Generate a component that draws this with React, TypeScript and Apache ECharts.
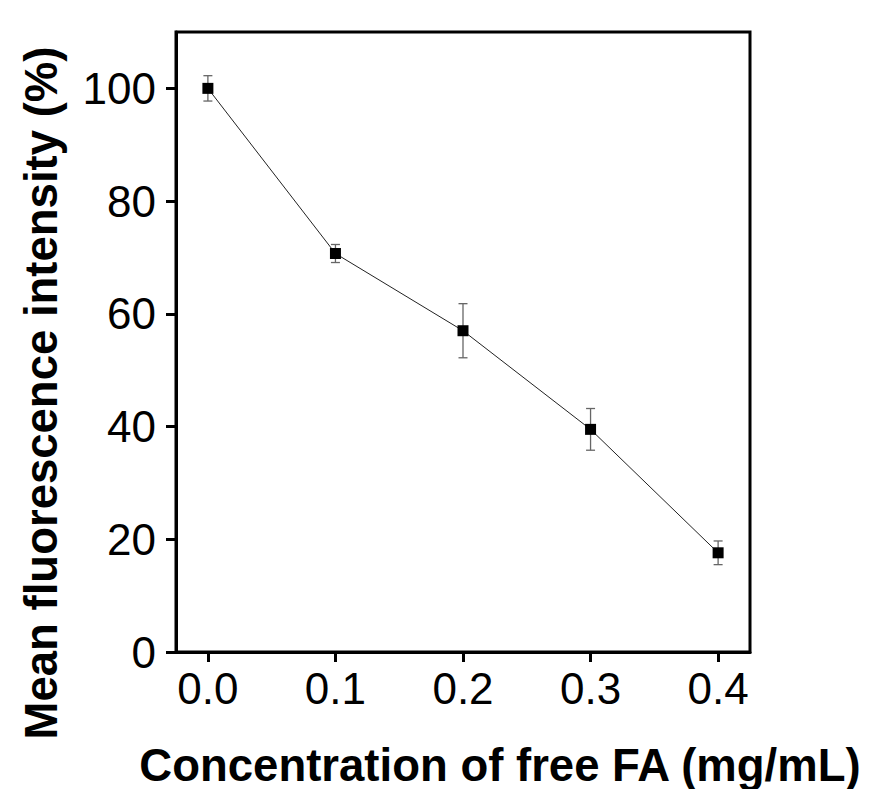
import React, { useEffect, useRef } from "react";
import * as echarts from "echarts";

const concentrations = [0.0, 0.1, 0.2, 0.3, 0.4];
const intensity = [100.0, 70.7, 57.0, 39.5, 17.6];
const errors = [2.25, 1.6, 4.8, 3.7, 2.1];
const xTicks = [0, 0.1, 0.2, 0.3, 0.4];
const yTicks = [0, 20, 40, 60, 80, 100];
const xTitle = "Concentration of free FA (mg/mL)";
const yTitle = "Mean fluorescence intensity (%)";

const FONT = "'Liberation Sans', Arial, sans-serif";

export default function App() {
  const ref = useRef<HTMLDivElement>(null);
  useEffect(() => {
    if (!ref.current) return;
    const chart = echarts.init(ref.current, undefined, { renderer: "svg" });
    const points = concentrations.map((c, i) => [c, intensity[i]]);
    const errData = concentrations.map((c, i) => [c, intensity[i] - errors[i], intensity[i] + errors[i]]);
    chart.setOption({
      animation: false,
      backgroundColor: "#ffffff",
      grid: {
        left: 176,
        top: 32,
        right: 121,
        bottom: 137,
        show: true,
        borderColor: "#000",
        borderWidth: 3,
        backgroundColor: "transparent",
      },
      xAxis: {
        type: "value",
        min: -0.025,
        max: 0.425,
        axisLine: { show: true, onZero: false, lineStyle: { color: "#000", width: 3 } },
        axisTick: { show: true, inside: false, length: 10, lineStyle: { color: "#000", width: 3 }, customValues: xTicks },
        axisLabel: {
          customValues: xTicks,
          formatter: (v: number) => v.toFixed(1),
          color: "#000",
          fontSize: 44,
          fontFamily: FONT,
          margin: 14,
        },
        splitLine: { show: false },
      },
      yAxis: {
        type: "value",
        min: 0,
        max: 110,
        axisLine: { show: true, onZero: false, lineStyle: { color: "#000", width: 3 } },
        axisTick: { show: true, inside: false, length: 10, lineStyle: { color: "#000", width: 3 }, customValues: yTicks },
        axisLabel: {
          customValues: yTicks,
          color: "#000",
          fontSize: 44,
          fontFamily: FONT,
          margin: 20,
        },
        splitLine: { show: false },
      },
      graphic: [
        {
          type: "text",
          x: 500,
          y: 765,
          style: {
            text: xTitle,
            fontSize: 45.5,
            lineHeight: 44,
            fontWeight: "bold",
            fontFamily: FONT,
            fill: "#000",
            align: "center",
            verticalAlign: "middle",
          },
        },
        {
          type: "text",
          x: 41,
          y: 393,
          rotation: Math.PI / 2,
          style: {
            text: yTitle,
            fontSize: 45.5,
            lineHeight: 44,
            fontWeight: "bold",
            fontFamily: FONT,
            fill: "#000",
            align: "center",
            verticalAlign: "middle",
          },
        },
      ],
      series: [
        {
          type: "line",
          data: points,
          symbol: "rect",
          symbolSize: 11,
          itemStyle: { color: "#000" },
          lineStyle: { color: "#222", width: 1 },
          z: 3,
        },
        {
          type: "custom",
          data: errData,
          z: 2,
          renderItem: (params: any, api: any) => {
            const x = api.value(0);
            const lo = api.coord([x, api.value(1)]);
            const hi = api.coord([x, api.value(2)]);
            const hw = 4.5;
            const style = { stroke: "#666", lineWidth: 1.3 };
            return {
              type: "group",
              children: [
                { type: "line", shape: { x1: lo[0], y1: lo[1], x2: hi[0], y2: hi[1] }, style },
                { type: "line", shape: { x1: lo[0] - hw, y1: lo[1], x2: lo[0] + hw, y2: lo[1] }, style },
                { type: "line", shape: { x1: hi[0] - hw, y1: hi[1], x2: hi[0] + hw, y2: hi[1] }, style },
              ],
            };
          },
        },
      ],
    });
    return () => chart.dispose();
  }, []);
  return <div ref={ref} style={{ width: 871, height: 789, position: "absolute", left: 0, top: 0 }} />;
}
